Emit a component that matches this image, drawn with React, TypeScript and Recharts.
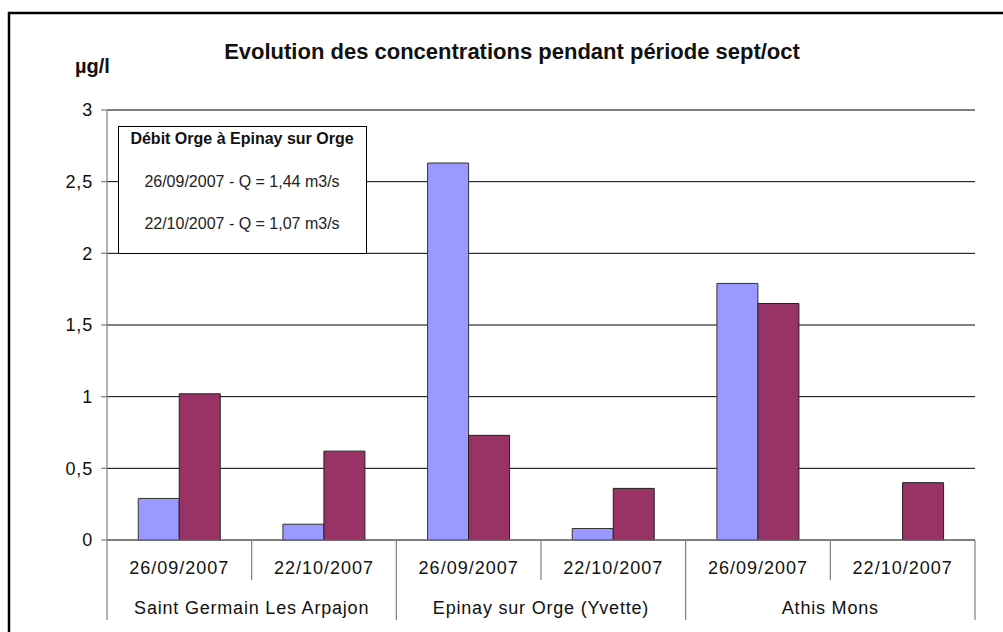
import React from 'react';
import { BarChart, Bar, XAxis, YAxis, CartesianGrid, Customized } from 'recharts';

const dates = ['26/09/2007', '22/10/2007', '26/09/2007', '22/10/2007', '26/09/2007', '22/10/2007'];
const sites = [
  'Saint Germain Les Arpajon',
  'Saint Germain Les Arpajon',
  'Epinay sur Orge (Yvette)',
  'Epinay sur Orge (Yvette)',
  'Athis Mons',
  'Athis Mons',
];
const serieA: (number | null)[] = [0.29, 0.11, 2.63, 0.08, 1.79, null];
const serieB: (number | null)[] = [1.02, 0.62, 0.73, 0.36, 1.65, 0.4];
const yTicks = [0, 0.5, 1, 1.5, 2, 2.5, 3];
const title = 'Evolution des concentrations pendant période sept/oct';
const unit = 'µg/l';
const boxTitle = 'Débit Orge à Epinay sur Orge';
const boxLines = ['26/09/2007 - Q = 1,44 m3/s', '22/10/2007 - Q = 1,07 m3/s'];

const data = dates.map((d, i) => ({ date: d, site: sites[i], a: serieA[i], b: serieB[i] }));

const FONT = '"Liberation Sans", Arial, sans-serif';
const W = 1003;
const H = 632;
const M_RIGHT = 28;
const Y_W = 107;
const N = dates.length;
const fallbackHalf = (W - Y_W - M_RIGHT) / N / 2;
const SEP = '#808080';

const DateTick = (props: any) => {
  const { x, y, payload, index } = props;
  const half = payload && payload.offset ? payload.offset : fallbackHalf;
  return (
    <g>
      <line x1={x - half} x2={x - half} y1={y} y2={y + 40} stroke={SEP} strokeWidth={1.2} />
      {index === N - 1 && (
        <line x1={x + half} x2={x + half} y1={y} y2={y + 40} stroke={SEP} strokeWidth={1.2} />
      )}
      <text x={x} y={y + 34} textAnchor="middle" fontSize={18} letterSpacing={1} fill="#111" fontFamily={FONT}>
        {payload.value}
      </text>
    </g>
  );
};

const SiteTick = (props: any) => {
  const { x, y, payload, index } = props;
  const half = payload && payload.offset ? payload.offset : fallbackHalf;
  return (
    <g>
      {index % 2 === 0 && (
        <line x1={x - half} x2={x - half} y1={y} y2={y + 40} stroke={SEP} strokeWidth={1.2} />
      )}
      {index === N - 1 && (
        <line x1={x + half} x2={x + half} y1={y} y2={y + 40} stroke={SEP} strokeWidth={1.2} />
      )}
      {index % 2 === 0 && (
        <text x={x + half} y={y + 34} textAnchor="middle" fontSize={18} letterSpacing={0.8} fill="#111" fontFamily={FONT}>
          {payload.value}
        </text>
      )}
    </g>
  );
};

const Overlay = () => (
  <g fontFamily={FONT}>
    <path d={`M 9 ${H} L 9 13 L ${W} 13`} fill="none" stroke="#000" strokeWidth={2.5} />
    <text x={512} y={59} textAnchor="middle" fontSize={22} fontWeight="bold" fill="#111">
      {title}
    </text>
    <text x={75} y={73} fontSize={20} fontWeight="bold" fill="#111">
      {unit}
    </text>
    <rect x={118.5} y={126.5} width={248} height={127} fill="#fff" stroke="#000" strokeWidth={1} />
    <text x={242} y={144} textAnchor="middle" fontSize={16} fontWeight="bold" fill="#111">
      {boxTitle}
    </text>
    {boxLines.map((l, i) => (
      <text key={i} x={242} y={187 + i * 42} textAnchor="middle" fontSize={16} fill="#222">
        {l}
      </text>
    ))}
  </g>
);

export default function App() {
  return (
    <div style={{ position: 'absolute', left: 0, top: 0, width: W, height: H, background: '#fff' }}>
      <BarChart
        width={W}
        height={H}
        data={data}
        margin={{ top: 110, right: M_RIGHT, bottom: 0, left: 0 }}
        barCategoryGap="21.6%"
        barGap={0}
      >
        <CartesianGrid vertical={false} stroke="#000" strokeWidth={1} />
        <XAxis
          xAxisId="d"
          dataKey="date"
          height={40}
          interval={0}
          tickSize={0}
          tickMargin={0}
          tickLine={false}
          axisLine={{ stroke: SEP, strokeWidth: 1.2 }}
          tick={<DateTick />}
        />
        <XAxis
          xAxisId="g"
          dataKey="site"
          height={52}
          interval={0}
          tickSize={0}
          tickMargin={0}
          tickLine={false}
          axisLine={false}
          tick={<SiteTick />}
        />
        <YAxis
          width={Y_W}
          domain={[0, 3]}
          ticks={yTicks}
          interval={0}
          tickSize={6}
          tickMargin={8}
          axisLine={{ stroke: SEP, strokeWidth: 1.2 }}
          tickLine={{ stroke: SEP, strokeWidth: 1.2 }}
          tick={{ fontSize: 18, fill: '#111', fontFamily: FONT, letterSpacing: 0.8 }}
          tickFormatter={(v: number) => String(v).replace('.', ',')}
        />
        <YAxis
          yAxisId="r"
          orientation="right"
          width={0}
          domain={[0, 3]}
          tick={false}
          tickLine={false}
          axisLine={{ stroke: '#b0b0b0', strokeWidth: 1.5 }}
        />
        <Bar xAxisId="d" dataKey="a" fill="#9999FF" stroke="#333" strokeWidth={1} isAnimationActive={false} />
        <Bar xAxisId="d" dataKey="b" fill="#993366" stroke="#222" strokeWidth={1} isAnimationActive={false} />
        <Customized component={Overlay} />
      </BarChart>
    </div>
  );
}
